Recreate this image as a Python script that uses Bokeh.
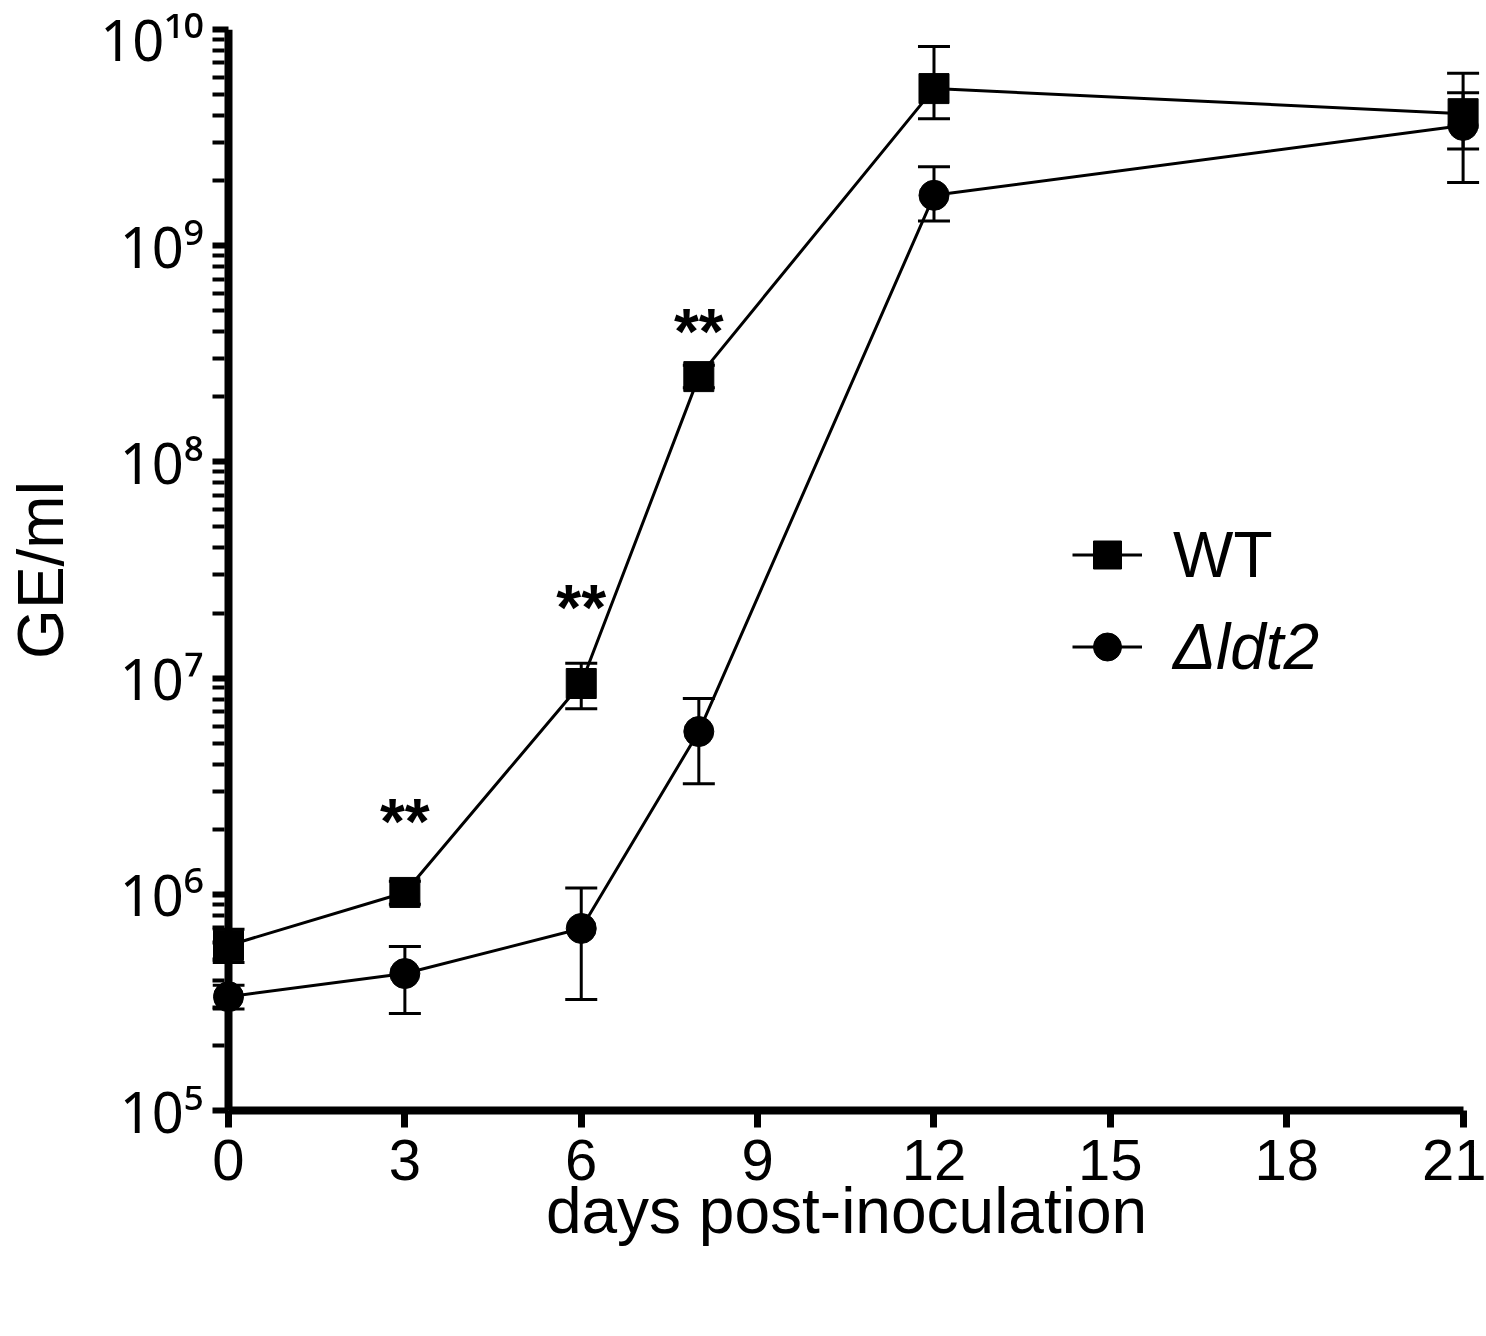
from bokeh.plotting import figure
from bokeh.models import (ColumnDataSource, Range1d, FixedTicker, Span, Whisker, TeeHead,
                          Legend, LegendItem)
from bokeh.core.properties import value
from bokeh.embed import file_html
from bokeh.resources import INLINE

# ---------------- data ----------------
days = [0, 3, 6, 8, 12, 21]
wt_mean = [5.8e5, 1.02e6, 9.44e6, 2.48e8, 5.33e9, 4.08e9]
wt_lower = [4.84e5, 9.0e5, 7.22e6, 2.2e8, 3.87e9, 2.8e9]
wt_upper = [6.9e5, 1.15e6, 1.17e7, 2.8e8, 8.34e9, 6.28e9]
ldt2_mean = [3.36e5, 4.3e5, 6.95e5, 5.66e6, 1.71e9, 3.6e9]
ldt2_lower = [2.95e5, 2.81e5, 3.26e5, 3.25e6, 1.3e9, 1.96e9]
ldt2_upper = [3.8e5, 5.74e5, 1.07e6, 8.05e6, 2.32e9, 5.1e9]
sig_days = [3, 6, 8]
sig_y = [2.15e6, 2.12e7, 3.97e8]
sig_text = ["**", "**", "**"]
x_ticks = [0, 3, 6, 9, 12, 15, 18, 21]
y_tick_exponents = [5, 6, 7, 8, 9, 10]
y_tick_labels = ["10\u2075", "10\u2076", "10\u2077", "10\u2078", "10\u2079", "10\u00b9\u2070"]
minor_multipliers = [2, 3, 4, 5, 6, 7, 8, 9]
series_names = ["WT", "\u0394ldt2"]
x_title = "days post-inoculation"
y_title = "GE/ml"

FONT = "Liberation Sans"
TICK_FONT_Y = "Noto Sans"

y_lo, y_hi = 10.0 ** y_tick_exponents[0], 10.0 ** y_tick_exponents[-1]

p = figure(frame_width=1268, frame_height=1081,
           min_border_left=212, min_border_right=6, min_border_top=29, min_border_bottom=140,
           x_range=Range1d(-0.2722, 21.296), y_range=Range1d(y_lo, y_hi),
           y_axis_type="log", output_backend="svg", toolbar_location=None)
p.outline_line_color = None
p.grid.visible = False
p.background_fill_color = "white"
p.border_fill_color = "white"

# ---------------- x axis ----------------
xa = p.xaxis[0]
xa.ticker = FixedTicker(ticks=x_ticks)
xa.bounds = (x_ticks[0], x_ticks[-1])
xa.axis_line_width = 8
xa.axis_line_color = "black"
xa.major_tick_line_width = 7
xa.major_tick_line_color = "black"
xa.major_tick_out = 17
xa.major_tick_in = 0
xa.minor_tick_line_color = None
xa.major_label_text_font = FONT
xa.major_label_text_font_size = "58px"
xa.major_label_text_color = "black"
xa.major_label_standoff = 12
xa.axis_label = x_title
xa.axis_label_text_font = FONT
xa.axis_label_text_font_size = "64px"
xa.axis_label_text_font_style = "normal"
xa.axis_label_text_color = "black"
xa.axis_label_standoff = -8

# ---------------- y axis ----------------
ya = p.yaxis[0]
major_y = [10.0 ** e for e in y_tick_exponents]
minor_y = [m * 10.0 ** e for e in y_tick_exponents[:-1] for m in minor_multipliers]
ya.ticker = FixedTicker(ticks=major_y, minor_ticks=minor_y)
ya.axis_line_color = None
ya.major_tick_in = 16
ya.major_tick_out = 0
ya.major_tick_line_width = 6
ya.major_tick_line_color = "black"
ya.minor_tick_in = 12
ya.minor_tick_out = 0
ya.minor_tick_line_width = 4
ya.minor_tick_line_color = "black"
ya.major_label_overrides = {v: t for v, t in zip(major_y, y_tick_labels)}
ya.major_label_text_font = TICK_FONT_Y
ya.major_label_text_font_size = "56px"
ya.major_label_text_color = "black"
ya.major_label_standoff = 9
ya.axis_label = y_title
ya.axis_label_text_font = FONT
ya.axis_label_text_font_size = "64px"
ya.axis_label_text_font_style = "normal"
ya.axis_label_text_color = "black"
ya.axis_label_standoff = 20

p.add_layout(Span(location=0, dimension="height", line_width=8, line_color="black"))

# ---------------- series ----------------
src_wt = ColumnDataSource(dict(x=days, y=wt_mean, lo=wt_lower, hi=wt_upper))
src_ld = ColumnDataSource(dict(x=days, y=ldt2_mean, lo=ldt2_lower, hi=ldt2_upper))

renderers = []
for src, marker in [(src_wt, "square"), (src_ld, "circle")]:
    w = Whisker(base="x", upper="hi", lower="lo", source=src, dimension="height",
                line_width=3, line_color="black",
                upper_head=TeeHead(size=32, line_width=3, line_color="black"),
                lower_head=TeeHead(size=32, line_width=3, line_color="black"))
    p.add_layout(w)
    ln = p.line("x", "y", source=src, line_width=3, line_color="black")
    sc = p.scatter("x", "y", source=src, marker=marker, size=30,
                   fill_color="black", line_color="black")
    renderers.append((ln, sc))

# significance stars
p.text(x=sig_days, y=sig_y, text=sig_text, text_align="center", text_baseline="middle",
       text_font=value(FONT), text_font_style="bold", text_font_size="64px", text_color="black")

# ---------------- legends ----------------
for i, (name, style, vy) in enumerate([(series_names[0], "normal", 518),
                                        (series_names[1], "italic", 426)]):
    leg = Legend(items=[LegendItem(label=name, renderers=list(renderers[i]))],
                 location=(860, vy), orientation="vertical",
                 glyph_width=70, glyph_height=75, label_standoff=31,
                 label_text_font=FONT, label_text_font_size="64px",
                 label_text_font_style=style, label_text_color="black",
                 border_line_color=None, background_fill_alpha=0,
                 padding=0, margin=0, spacing=0)
    p.add_layout(leg)

open("out.html", "w").write(file_html(p, INLINE))
